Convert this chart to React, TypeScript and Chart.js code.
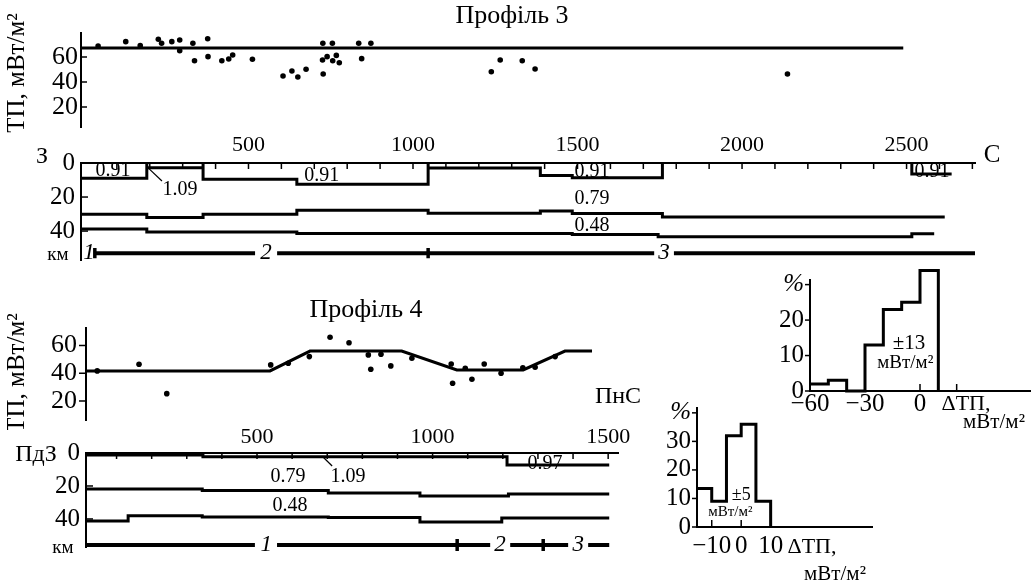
import React, { useEffect, useRef } from "react";
import { Chart, registerables } from "chart.js";
Chart.register(...registerables);

const SERIF = '"Liberation Serif", "Times New Roman", serif';
const BLACK = "#000";

// ---------- Profile 3: heat flow ----------
const p3Km = [43, 127, 171, 226, 236, 267, 291, 291, 331, 336, 376, 377, 419, 440, 452, 512, 605, 632, 650, 675, 726, 725, 739, 727, 755, 756, 767, 776, 835, 844, 872, 1238, 1265, 1332, 1371, 2138];
const p3Tp = [68.8, 72.3, 69.1, 74.2, 71, 72.3, 73.6, 65, 71, 57, 74.6, 60.3, 57, 58.4, 61.6, 58.2, 44.8, 48.8, 44, 50.2, 71, 57.6, 60.3, 46.4, 71, 57, 61.3, 55.4, 71, 58.7, 71, 48.2, 57.6, 57, 50.4, 46.4];
const p3TrendKm = [-9, 2490];
const p3TrendTp = [67.2, 67.2];
const tpTicks = [20, 40, 60];

// ---------- Profile 3: crustal section ----------
const p3KmRange = [-9, 2708];
const p3LabelKm = [500, 1000, 1500, 2000, 2500];
const depthTicks = [0, 20, 40];
const p3SedKm = [-9, 191, 191, 191, 362, 362, 362, 647, 647, 1046, 1046, 1046, 1387, 1387, 1484, 1484, 1758, 1758];
const p3SedDepth = [9, 9, 0, 2.8, 2.8, 0, 9.6, 9.6, 12.5, 12.5, 0, 3, 3, 7.4, 7.4, 8.7, 8.7, 0];
const p3EdgeKm = [2516, 2516, 2637];
const p3EdgeDepth = [0, 6.5, 6.5];
const p3MidBreaks = [-9, 191, 362, 647, 1046, 1387, 1484, 1758, 2616];
const p3MidDepth = [30.1, 32, 30.1, 27.8, 29.6, 28.2, 29.7, 31.7];
const p3LowBreaks = [-9, 191, 647, 1484, 1745, 2516, 2584];
const p3LowDepth = [38.8, 40.6, 41.4, 42, 43.3, 41.6];
const p3ZoneStart = [33, 587, 1793];
const p3ZoneEnd = [520, 1733, 2708];
const p3ZoneTickKm = [33, 1046];
const p3ZoneNames = ["1", "2", "3"];
const p3ZoneNameKm = [15, 553, 1763];
const p3DensText = ["0.91", "1.09", "0.91", "0.91", "0.79", "0.48", "0.91"];
const p3DensKm = [88, 292, 723, 1544, 1544, 1544, 2577];
const p3DensDepth = [4.7, 15.9, 7.6, 5.3, 21, 37, 5.3];

// ---------- Profile 4: heat flow ----------
const p4Km = [45, 164, 243, 539, 589, 649, 708, 762, 817, 824, 853, 881, 941, 1053, 1057, 1093, 1112, 1147, 1195, 1257, 1292, 1349];
const p4Tp = [41.7, 46.5, 25.3, 46, 47.2, 52, 65.9, 62, 53.2, 42.9, 53.7, 45.3, 50.8, 46.7, 32.8, 43.6, 35.7, 46.7, 40, 44, 44.3, 52];
const p4TrendKm = [13, 537, 651, 912, 1069, 1258, 1377, 1454];
const p4TrendTp = [41.7, 41.7, 56, 56, 42.4, 42.4, 56, 56];

// ---------- Profile 4: crustal section ----------
const p4KmRange = [13, 1528];
const p4LabelKm = [500, 1000, 1500];
const p4SedBreaks = [13, 346, 1212, 1503];
const p4SedDepth = [1.2, 2.2, 7.3];
const p4MidBreaks = [13, 344, 703, 964, 1216, 1503];
const p4MidDepth = [21.8, 22.8, 24.2, 26, 24.8];
const p4LowBreaks = [13, 133, 344, 703, 964, 1197, 1503];
const p4LowDepth = [41.3, 38, 38.8, 39.1, 41.9, 39.4];
const p4ZoneStart = [13, 557, 1221, 1443];
const p4ZoneEnd = [494, 1164, 1386, 1503];
const p4ZoneTickKm = [1070, 1315];
const p4ZoneNames = ["1", "2", "3"];
const p4ZoneNameKm = [526, 1192, 1415];
const p4DensText = ["0.79", "1.09", "0.48", "0.97"];
const p4DensKm = [588, 759, 594, 1320];
const p4DensDepth = [14.5, 14.5, 32, 6.7];

// ---------- Histograms ----------
const h1Edges = [-60, -50, -40, -30, -20, -10, 0, 10];
const h1Pct = [2, 3, 0, 13, 23, 25, 34];
const h1XTicks = [-60, -30, 0];
const h1YTicks = [0, 10, 20, 30];
const h2Edges = [-15, -10, -5, 0, 5, 10];
const h2Pct = [13.5, 9, 32, 36, 9];
const h2XTicks = [-10, 0, 10];
const h2YTicks = [0, 10, 20, 30, 40];

// ---------- helpers ----------
type Box = { x: number; y: number; w: number; h: number };

const pts = (xs: number[], ys: number[]) => xs.map((x, i) => ({ x, y: ys[i] }));
const stepPts = (b: number[], v: number[]) => {
  const out: { x: number; y: number }[] = [];
  v.forEach((val, i) => {
    out.push({ x: b[i], y: val });
    out.push({ x: b[i + 1], y: val });
  });
  return out;
};
const histPts = (e: number[], v: number[]) => {
  const out = stepPts(e, v);
  out.push({ x: e[e.length - 1], y: 0 });
  return out;
};
const lineDS = (data: any[], width = 3) => ({
  data,
  showLine: true,
  borderColor: BLACK,
  borderWidth: width,
  pointRadius: 0,
  fill: false,
  tension: 0,
});
const fixW = (w: number) => (s: any) => {
  s.width = w;
  s.paddingTop = 0;
  s.paddingBottom = 0;
  s.paddingLeft = 0;
  s.paddingRight = 0;
};
const fixH = (h: number) => (s: any) => {
  s.height = h;
  s.paddingTop = 0;
  s.paddingBottom = 0;
  s.paddingLeft = 0;
  s.paddingRight = 0;
};
const setTicks = (vals: number[]) => (s: any) => {
  s.ticks = vals.map((v) => ({ value: v }));
};
const minus = (v: number) => (v < 0 ? "\u2212" + Math.abs(v) : String(v));

function txt(ctx: CanvasRenderingContext2D, s: string, x: number, y: number, size: number, o: any = {}) {
  ctx.save();
  ctx.font = `${o.italic ? "italic " : ""}${size}px ${SERIF}`;
  ctx.fillStyle = BLACK;
  ctx.textAlign = o.align || "center";
  ctx.textBaseline = "middle";
  if (o.rotate) {
    ctx.translate(x, y);
    ctx.rotate(o.rotate);
    ctx.fillText(s, 0, 0);
  } else ctx.fillText(s, x, y);
  ctx.restore();
}
function seg(ctx: CanvasRenderingContext2D, x1: number, y1: number, x2: number, y2: number, w = 2) {
  ctx.save();
  ctx.strokeStyle = BLACK;
  ctx.lineWidth = w;
  ctx.beginPath();
  ctx.moveTo(x1, y1);
  ctx.lineTo(x2, y2);
  ctx.stroke();
  ctx.restore();
}

const base = (pad: any) => ({
  responsive: false,
  maintainAspectRatio: false,
  animation: false,
  devicePixelRatio: 1,
  events: [],
  layout: { padding: pad },
  plugins: { legend: { display: false }, tooltip: { enabled: false }, title: { display: false } },
});

const axisY = (o: any) => ({
  type: "linear",
  position: "left",
  grid: { display: false, drawTicks: false },
  border: { display: true, color: BLACK, width: 2 },
  ...o,
});

function ChartCanvas({ box, make }: { box: Box; make: (box: Box) => any }) {
  const ref = useRef<HTMLCanvasElement>(null);
  useEffect(() => {
    const c = new Chart(ref.current as HTMLCanvasElement, make(box));
    return () => c.destroy();
  }, []);
  return (
    <canvas
      ref={ref}
      width={box.w}
      height={box.h}
      style={{ position: "absolute", left: box.x, top: box.y, width: box.w, height: box.h }}
    />
  );
}

// ---------- chart configs ----------
const p3TpCfg = (box: Box) => ({
  type: "scatter",
  data: {
    datasets: [
      { data: pts(p3Km, p3Tp), pointRadius: 2.8, pointBackgroundColor: BLACK, pointBorderWidth: 0, showLine: false },
      lineDS(pts(p3TrendKm, p3TrendTp), 3),
    ],
  },
  options: {
    ...base({ left: 0, top: 33, right: 60, bottom: 13 }),
    scales: {
      x: { type: "linear", display: false, min: p3KmRange[0], max: p3KmRange[1] },
      y: axisY({
        min: 4,
        max: 79.2,
        afterBuildTicks: setTicks(tpTicks),
        afterFit: fixW(81),
        ticks: { color: BLACK, font: { family: SERIF, size: 26 }, padding: 3, autoSkip: false },
      }),
    },
  },
  plugins: [
    {
      id: "p3tpExtra",
      afterDraw(chart: any) {
        const { ctx, chartArea: a, scales } = chart;
        tpTicks.forEach((v) => seg(ctx, a.left, scales.y.getPixelForValue(v), a.left + 6, scales.y.getPixelForValue(v), 1.5));
        txt(ctx, "Профіль 3", 512 - box.x, 16 - box.y, 26);
        txt(ctx, "ТП, мВт/м²", 17 - box.x, 73 - box.y, 25, { rotate: -Math.PI / 2 });
      },
    },
  ],
});

function sectionCfg(p: any) {
  return (box: Box) => ({
    type: "scatter",
    data: { datasets: p.datasets },
    options: {
      ...base(p.pad),
      scales: {
        x: {
          type: "linear",
          position: "top",
          min: p.range[0],
          max: p.range[1],
          afterBuildTicks: setTicks(p.labels),
          afterFit: fixH(p.topH),
          grid: { display: false, drawTicks: false },
          border: { display: true, color: BLACK, width: 2 },
          ticks: { color: BLACK, font: { family: SERIF, size: 22 }, padding: p.labelPad, autoSkip: false, maxRotation: 0, callback: (v: number) => String(v) },
        },
        y: axisY({
          reverse: true,
          min: 0,
          max: 57,
          afterBuildTicks: setTicks(depthTicks),
          afterFit: fixW(p.leftW),
          ticks: { color: BLACK, font: { family: SERIF, size: 25 }, padding: 6, autoSkip: false },
        }),
      },
    },
    plugins: [
      {
        id: "secExtra",
        afterDraw(chart: any) {
          const { ctx, chartArea: a, scales } = chart;
          const X = (v: number) => scales.x.getPixelForValue(v);
          const Y = (v: number) => scales.y.getPixelForValue(v);
          for (let k = 100; k <= p.range[1]; k += 100) seg(ctx, X(k), a.top, X(k), a.top + 6, 1.5);
          [20, 40].forEach((d) => seg(ctx, a.left, Y(d), a.left + 7, Y(d), 1.5));
          ctx.save();
          ctx.beginPath();
          ctx.rect(a.left, a.top + 1, a.right - a.left, a.bottom - a.top);
          ctx.clip();
          p.densText.forEach((t: string, i: number) => txt(ctx, t, X(p.densKm[i]), Y(p.densDepth[i]), 20));
          ctx.restore();
          if (p.leader) seg(ctx, X(p.leader[0]), Y(p.leader[1]), X(p.leader[2]), Y(p.leader[3]), 1.2);
          p.zoneNames.forEach((t: string, i: number) => txt(ctx, t, X(p.zoneNameKm[i]), Y(p.zoneDepth), 23, { italic: true }));
          p.texts.forEach((t: any) => txt(ctx, t[0], t[1] - box.x, t[2] - box.y, t[3]));
        },
      },
    ],
  });
}

const zoneDatasets = (starts: number[], ends: number[], ticks: number[], depth: number, half: number) => [
  ...starts.map((s, i) => ({ ...lineDS([{ x: s, y: depth }, { x: ends[i], y: depth }], 4), clip: false })),
  ...ticks.map((k) => ({ ...lineDS([{ x: k, y: depth - half }, { x: k, y: depth + half }], 3.5), clip: false })),
];

const p3SecCfg = sectionCfg({
  pad: { left: 0, top: 0, right: 60, bottom: 10 },
  range: p3KmRange,
  labels: p3LabelKm,
  topH: 33,
  leftW: 81,
  labelPad: 5,
  datasets: [
    lineDS(pts(p3SedKm, p3SedDepth), 3),
    lineDS(pts(p3EdgeKm, p3EdgeDepth), 3),
    lineDS(stepPts(p3MidBreaks, p3MidDepth), 3),
    lineDS(stepPts(p3LowBreaks, p3LowDepth), 3),
    ...zoneDatasets(p3ZoneStart, p3ZoneEnd, p3ZoneTickKm, 53, 3),
  ],
  densText: p3DensText,
  densKm: p3DensKm,
  densDepth: p3DensDepth,
  leader: [195, 2.9, 237, 10.6],
  zoneNames: p3ZoneNames,
  zoneNameKm: p3ZoneNameKm,
  zoneDepth: 53,
  texts: [
    ["З", 42, 157, 24],
    ["С", 992, 155, 25],
    ["км", 58, 255, 19],
  ],
});

const p4TpCfg = (box: Box) => ({
  type: "scatter",
  data: {
    datasets: [
      { data: pts(p4Km, p4Tp), pointRadius: 2.8, pointBackgroundColor: BLACK, pointBorderWidth: 0, showLine: false },
      lineDS(pts(p4TrendKm, p4TrendTp), 3),
    ],
  },
  options: {
    ...base({ left: 0, top: 38, right: 82, bottom: 10 }),
    scales: {
      x: { type: "linear", display: false, min: p4KmRange[0], max: p4KmRange[1] },
      y: axisY({
        min: 6.3,
        max: 72.6,
        afterBuildTicks: setTicks(tpTicks),
        afterFit: fixW(86),
        ticks: { color: BLACK, font: { family: SERIF, size: 26 }, padding: 9, autoSkip: false },
      }),
    },
  },
  plugins: [
    {
      id: "p4tpExtra",
      afterDraw(chart: any) {
        const { ctx, chartArea: a, scales } = chart;
        tpTicks.forEach((v) => seg(ctx, a.left - 7, scales.y.getPixelForValue(v), a.left, scales.y.getPixelForValue(v), 1.5));
        txt(ctx, "Профіль 4", 366 - box.x, 310 - box.y, 26);
        txt(ctx, "ТП, мВт/м²", 17 - box.x, 373 - box.y, 25, { rotate: -Math.PI / 2 });
        txt(ctx, "ПнС", 618 - box.x, 397 - box.y, 24);
      },
    },
  ],
});

const p4SecCfg = sectionCfg({
  pad: { left: 0, top: 0, right: 82, bottom: 13 },
  range: p4KmRange,
  labels: p4LabelKm,
  topH: 28,
  leftW: 86,
  labelPad: 3,
  datasets: [
    lineDS(stepPts(p4SedBreaks, p4SedDepth), 3),
    lineDS(stepPts(p4MidBreaks, p4MidDepth), 3),
    lineDS(stepPts(p4LowBreaks, p4LowDepth), 3),
    ...zoneDatasets(p4ZoneStart, p4ZoneEnd, p4ZoneTickKm, 55.8, 3.6),
  ],
  densText: p4DensText,
  densKm: p4DensKm,
  densDepth: p4DensDepth,
  leader: [688, 2.4, 714, 7.9],
  zoneNames: p4ZoneNames,
  zoneNameKm: p4ZoneNameKm,
  zoneDepth: 55.8,
  texts: [
    ["ПдЗ", 36, 455, 24],
    ["км", 63, 548, 19],
  ],
});

function histCfg(p: any) {
  return (box: Box) => ({
    type: "scatter",
    data: { datasets: [{ ...lineDS(histPts(p.edges, p.pct), 3), clip: false }] },
    options: {
      ...base(p.pad),
      scales: {
        x: {
          type: "linear",
          position: "bottom",
          min: p.xr[0],
          max: p.xr[1],
          afterBuildTicks: setTicks(p.xTicks),
          afterFit: fixH(p.bottomH),
          grid: { display: false, drawTicks: false },
          border: { display: true, color: BLACK, width: 2 },
          ticks: { color: BLACK, font: { family: SERIF, size: 25 }, padding: p.xPad, autoSkip: false, maxRotation: 0, callback: (v: number) => minus(v) },
        },
        y: axisY({
          min: 0,
          max: p.yMax,
          afterBuildTicks: setTicks(p.yTicks),
          afterFit: fixW(p.leftW),
          ticks: {
            color: BLACK,
            padding: 6,
            autoSkip: false,
            font: (c: any) => ({ family: SERIF, size: 25, style: c.tick && c.tick.value === p.pctAt ? "italic" : "normal" }),
            callback: (v: number) => (v === p.pctAt ? "%" : String(v)),
          },
        }),
      },
    },
    plugins: [
      {
        id: "histExtra",
        afterDraw(chart: any) {
          const { ctx, chartArea: a, scales } = chart;
          const X = (v: number) => scales.x.getPixelForValue(v);
          const Y = (v: number) => scales.y.getPixelForValue(v);
          p.yTicks.forEach((v: number) => seg(ctx, a.left - 5, Y(v), a.left, Y(v), 1.5));
          p.xMarks.forEach((v: number) => seg(ctx, X(v), a.bottom, X(v), a.bottom - 7, 1.5));
          p.inner.forEach((t: any) => txt(ctx, t[0], X(t[1]), Y(t[2]), t[3]));
          p.texts.forEach((t: any) => txt(ctx, t[0], t[1] - box.x, t[2] - box.y, t[3]));
        },
      },
    ],
  });
}

const h1Cfg = histCfg({
  edges: h1Edges,
  pct: h1Pct,
  pad: { left: 0, top: 25, right: 5, bottom: 0 },
  xr: [-60, 60],
  yMax: 31.3,
  xTicks: h1XTicks,
  yTicks: h1YTicks,
  xMarks: [-60, -30, 0, 20],
  pctAt: 30,
  bottomH: 49,
  leftW: 70,
  xPad: -2,
  inner: [
    ["±13", -6, 13.5, 21],
    ["мВт/м²", -8, 7.9, 19],
  ],
  texts: [
    ["ΔТП,", 966, 404, 22],
    ["мВт/м²", 994, 422, 21],
  ],
});

const h2Cfg = histCfg({
  edges: h2Edges,
  pct: h2Pct,
  pad: { left: 0, top: 13, right: 28, bottom: 0 },
  xr: [-15, 44.4],
  yMax: 41.7,
  xTicks: h2XTicks,
  yTicks: h2YTicks,
  xMarks: [-10, 0, 10],
  pctAt: 40,
  bottomH: 60,
  leftW: 57,
  xPad: 4,
  inner: [
    ["±5", 0, 11.2, 18],
    ["мВт/м²", -3.7, 5.3, 15],
  ],
  texts: [
    ["ΔТП,", 812, 547, 22],
    ["мВт/м²", 835, 574, 21],
  ],
});

export default function App() {
  return (
    <div style={{ position: "absolute", left: 0, top: 0, width: 1035, height: 587, background: "#fff", overflow: "hidden" }}>
      <ChartCanvas box={{ x: 0, y: 0, w: 1035, h: 140 }} make={p3TpCfg} />
      <ChartCanvas box={{ x: 0, y: 130, w: 1035, h: 140 }} make={p3SecCfg} />
      <ChartCanvas box={{ x: 0, y: 290, w: 700, h: 140 }} make={p4TpCfg} />
      <ChartCanvas box={{ x: 0, y: 425, w: 700, h: 135 }} make={p4SecCfg} />
      <ChartCanvas box={{ x: 740, y: 255, w: 295, h: 185 }} make={h1Cfg} />
      <ChartCanvas box={{ x: 640, y: 395, w: 260, h: 192 }} make={h2Cfg} />
    </div>
  );
}
